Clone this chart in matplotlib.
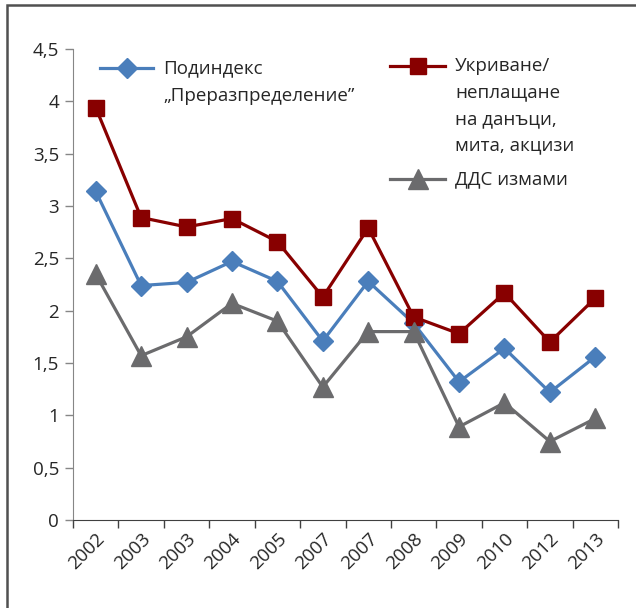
import numpy as np
import matplotlib
matplotlib.use("Agg")
import matplotlib.pyplot as plt
from matplotlib.lines import Line2D
from matplotlib.patches import Rectangle
from matplotlib.ticker import FuncFormatter

plt.rcParams['font.family'] = ['Open Sans', 'DejaVu Sans']

years = ['2002', '2003', '2003', '2004', '2005', '2007', '2007', '2008',
         '2009', '2010', '2012', '2013']
redistribution = [3.14, 2.24, 2.27, 2.47, 2.28, 1.71, 2.28, 1.88, 1.32, 1.64, 1.22, 1.56]
tax_evasion = [3.94, 2.89, 2.80, 2.88, 2.66, 2.13, 2.79, 1.94, 1.78, 2.17, 1.70, 2.12]
vat_fraud = [2.35, 1.57, 1.75, 2.07, 1.90, 1.27, 1.80, 1.80, 0.89, 1.12, 0.75, 0.97]

blue = '#4a7ebb'
red = '#880000'
gray = '#6b6b6d'
text_c = '#262626'
fs = 13.5

fig = plt.figure(figsize=(6.36, 6.08), dpi=100)
ax = fig.add_axes([73 / 636, 1 - 520 / 608, 545 / 636, 471 / 608])

x = np.arange(len(years))
ax.plot(x, redistribution, color=blue, lw=2.3, marker='D', ms=10.5, mec=blue, mfc=blue)
ax.plot(x, tax_evasion, color=red, lw=2.3, marker='s', ms=11.5, mec=red, mfc=red)
ax.plot(x, vat_fraud, color=gray, lw=2.3, marker='^', ms=14, mec=gray, mfc=gray)

ax.set_xlim(-0.5, len(years) - 0.5)
ax.set_ylim(0, 4.5)
ax.set_yticks(np.arange(0, 4.51, 0.5))
ax.yaxis.set_major_formatter(FuncFormatter(lambda v, p: ('%g' % v).replace('.', ',')))
ax.set_xticks(x)
ax.set_xticklabels(years, rotation=45, ha='right', rotation_mode='anchor')
ax.set_xticks(np.arange(-0.5, len(years)), minor=True)
ax.tick_params(axis='x', which='major', length=0, pad=7, labelsize=fs, labelcolor=text_c)
ax.tick_params(axis='x', which='minor', length=6, color='#404040', width=1)
ax.tick_params(axis='y', length=6, color='#868686', width=1, labelsize=fs,
               labelcolor=text_c, pad=4)

for s in ['top', 'right']:
    ax.spines[s].set_visible(False)
ax.spines['left'].set_color('#868686')
ax.spines['bottom'].set_color('#404040')

# legend drawn by hand to match the original layout
W, H = 636, 608


def legend_entry(x0, x1, y, color, marker, ms, lines, step):
    fig.add_artist(Line2D([x0 / W, x1 / W], [1 - y / H, 1 - y / H], color=color, lw=2.3,
                          transform=fig.transFigure))
    fig.add_artist(Line2D([(x0 + x1) / 2 / W], [1 - y / H], color=color, marker=marker,
                          ms=ms, mec=color, mfc=color, transform=fig.transFigure))
    for i, t in enumerate(lines):
        fig.text((x1 + 10) / W, 1 - (y + i * step) / H, t, va='center', ha='left',
                 fontsize=fs, color=text_c)


legend_entry(100, 153, 68, blue, 'D', 10.5, ['Подиндекс', '„Преразпределение”'], 28)
legend_entry(390, 445, 66, red, 's', 11.5,
             ['Укриване/', 'неплащане', 'на данъци,', 'мита, акцизи'], 26.5)
legend_entry(390, 445, 179, gray, '^', 14, ['ДДС измами'], 26)

# outer frame
fig.patches.append(Rectangle((7 / W, -0.1), 1.2, 1 - 5 / H + 0.1, fill=False,
                             edgecolor='#505050', lw=1.8, transform=fig.transFigure))

fig.savefig('out.png', dpi=100)
